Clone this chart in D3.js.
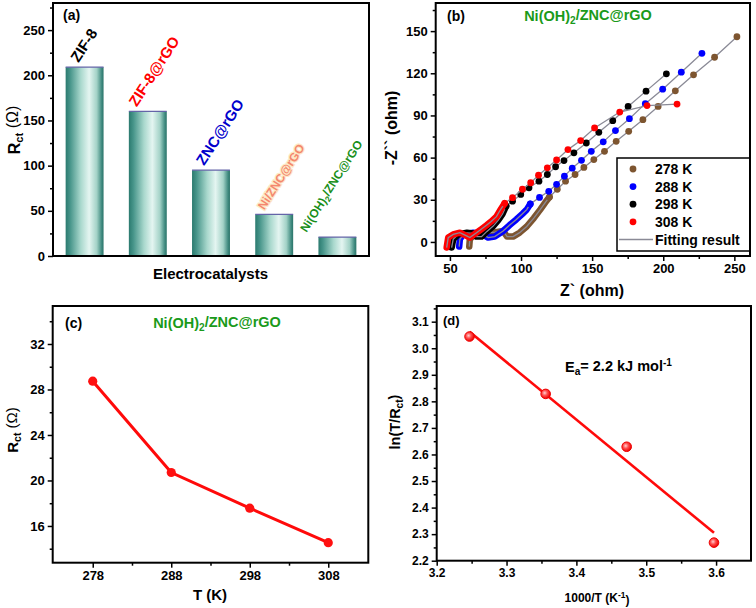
<!DOCTYPE html>
<html><head><meta charset="utf-8">
<script src="https://cdn.jsdelivr.net/npm/d3@7"></script>
<style>
body{margin:0;background:#fff}
svg{display:block}
text{font-family:Arial,"Liberation Sans",sans-serif;font-weight:bold}
</style>
</head><body>
<svg id="c" width="756" height="608"></svg>
<script>
// ---------------- DATA ----------------
// (a) bar chart
const catalysts = ["ZIF-8", "ZIF-8@rGO", "ZNC@rGO", "Ni/ZNC@rGO", "Ni(OH)2/ZNC@rGO"];
const rctValues = [209, 160, 95, 46, 21];
const catalystColors = ["#000000", "#ff0000", "#0000cc", "#f4876e", "#1a8f1a"];
const yTicksA = [0, 50, 100, 150, 200, 250];

// (b) Nyquist plots [Z', -Z'']
const tempLabels = ["278 K", "288 K", "298 K", "308 K"];
const tempColors = ["#7d5530", "#0000ff", "#000000", "#ff0000"];
const band278 = [[63.6,-3.3],[64,1.9],[67.5,5.4],[75,6.5],[82,7],[87.4,7.8],[90.2,3.8],[94.4,3.8],[99,6.6],[104,11],[109,17],[113.5,23],[117,28]];
const dots278 = [[120,32],[125.5,37.5],[131.3,43.2],[138,48],[144.2,53],[151.2,58.6],[158.7,64.5],[166.9,71.6],[175.7,78.7],[185.7,87],[196.4,96.4],[208.5,107.5],[221.3,118.9],[236.1,131.4],[251.8,146]];
const band288 = [[56.5,-3.3],[57,1.9],[59.3,5.4],[66.4,6.6],[72.2,5.9],[76.9,3.1],[81.5,3.8],[87.4,7.8],[92,12],[96.7,16],[101,20],[104,23]];
const dots288 = [[106.5,27],[113,31.7],[119.5,36],[125,41],[130.5,46.8],[136,52.5],[142.5,58.1],[149.4,64.5],[157.8,71.2],[166.4,79.2],[176.2,87.7],[187.4,98.4],[199.6,108.7],[212.7,120.8],[227.2,134.2]];
const band298 = [[51.2,-4],[52.3,1.9],[55.8,5.4],[62,6.5],[66.4,6.1],[68.7,3.8],[72.2,3.8],[76,7.5],[80.4,11.3],[84,15.5],[87,20]];
const dots298 = [[89.5,25.5],[94,29],[99.8,33.8],[105.6,38.5],[112.6,43.2],[118.5,48],[124.3,53.5],[130.2,57.9],[137.2,63.4],[145.9,70.4],[154.7,78],[164.5,86.3],[175.3,96.4],[187.9,107.3],[202.2,119.6]];
const band308 = [[47.7,-4],[48.8,3.1],[52.3,5.4],[57,6.6],[61.7,4.3],[64,3.1],[68.7,6.6],[72,9],[75.7,11.8],[79,14.5],[82.7,18],[85,22]];
const dots308 = [[88.5,27.5],[94,31.5],[101,37.5],[106.8,42.1],[112.3,47.5],[118.5,52.7],[125,58.3],[133,65.7],[141.9,72.1],[151.7,81.1],[169.4,92.4],[188.6,97],[209.7,98.1]];
const xTicksB = [50, 100, 150, 200, 250];
const yTicksB = [0, 30, 60, 90, 120, 150];

// (c) Rct vs T
const temps = [278, 288, 298, 308];
const rctTemp = [28.73, 20.7, 17.56, 14.53];
const yTicksC = [16, 20, 24, 28, 32];

// (d) Arrhenius
const invT = [3.247, 3.356, 3.472, 3.597];
const lnTR = [3.044, 2.828, 2.629, 2.268];
const fitInvT = [3.247, 3.597];
const fitLnTR = [3.062, 2.305];
const xTicksD = [3.2, 3.3, 3.4, 3.5, 3.6];
const yTicksD = [2.2, 2.3, 2.4, 2.5, 2.6, 2.7, 2.8, 2.9, 3.0, 3.1];

// ---------------- DRAW ----------------
const svg = d3.select("#c");
const defs = svg.append("defs");
const grad = defs.append("linearGradient").attr("id", "barGrad").attr("x1", "0").attr("x2", "1").attr("y1", "0").attr("y2", "0");
[[0, "#2b7a6f"], [0.12, "#47958a"], [0.4, "#a9d8cd"], [0.62, "#e4f5f1"], [0.82, "#a3d2c7"], [0.95, "#3f8a7f"], [1, "#2b7469"]]
  .forEach(([o, c]) => grad.append("stop").attr("offset", o).attr("stop-color", c));
const rg = defs.append("radialGradient").attr("id", "ball").attr("cx", "0.4").attr("cy", "0.4").attr("r", "0.6");
rg.append("stop").attr("offset", 0).attr("stop-color", "#ffd0d0");
rg.append("stop").attr("offset", 0.45).attr("stop-color", "#ff5050");
rg.append("stop").attr("offset", 1).attr("stop-color", "#ee0000");

function styleAxis(g, fs) {
  g.select(".domain").remove();
  g.selectAll(".tick line").attr("stroke", "#000").attr("stroke-width", 1.5);
  g.selectAll(".tick text").attr("fill", "#000").attr("font-size", fs)
    .attr("font-weight", "bold").attr("font-family", "Arial, 'Liberation Sans', sans-serif");
}
function leftAxis(y, x0, major, minor, fs, fmt) {
  const g = svg.append("g").attr("transform", `translate(${x0},0)`)
    .call(d3.axisLeft(y).tickValues(major).tickSize(5).tickPadding(3).tickFormat(fmt || null));
  styleAxis(g, fs);
  const m = svg.append("g").attr("transform", `translate(${x0},0)`)
    .call(d3.axisLeft(y).tickValues(minor).tickSize(3).tickFormat(""));
  styleAxis(m, fs);
}
function bottomAxis(x, y0, major, minor, fs, fmt) {
  const g = svg.append("g").attr("transform", `translate(0,${y0})`)
    .call(d3.axisBottom(x).tickValues(major).tickSize(5).tickPadding(3).tickFormat(fmt || null));
  styleAxis(g, fs);
  const m = svg.append("g").attr("transform", `translate(0,${y0})`)
    .call(d3.axisBottom(x).tickValues(minor).tickSize(3).tickFormat(""));
  styleAxis(m, fs);
}
function frame(x0, y0, x1, y1) {
  svg.append("rect").attr("x", x0).attr("y", y0).attr("width", x1 - x0).attr("height", y1 - y0)
    .attr("fill", "none").attr("stroke", "#000").attr("stroke-width", 2);
}
function rotLabel(x, y, parts, fs) {
  const t = svg.append("text").attr("transform", `translate(${x},${y}) rotate(-90)`)
    .attr("text-anchor", "middle").attr("font-size", fs).attr("dy", "0.35em");
  addParts(t, parts);
  return t;
}
function addParts(t, parts) {
  parts.forEach(p => {
    const s = t.append("tspan").text(p.t);
    if (p.sub) s.attr("font-size", "0.7em").attr("dy", "0.3em");
    if (p.sup) s.attr("font-size", "0.7em").attr("dy", "-0.45em");
    if (p.back) s.attr("dy", p.back);
    if (p.normal) s.attr("font-weight", "normal");
  });
}

// ===== Panel (a) =====
const xA = d3.scaleBand().domain(catalysts).range([53, 369]).paddingInner(0.4).paddingOuter(0.2);
const yA = d3.scaleLinear().domain([0, 280]).range([256, 3]);
leftAxis(yA, 53, yTicksA, [25, 75, 125, 175, 225, 275], 13);
const bw = xA.bandwidth();
svg.append("g").selectAll("rect").data(catalysts).join("rect")
  .attr("x", d => xA(d)).attr("y", (d, i) => yA(rctValues[i]))
  .attr("width", bw).attr("height", (d, i) => yA(0) - yA(rctValues[i]))
  .attr("fill", "url(#barGrad)");
svg.append("g").selectAll("line").data(catalysts).join("line")
  .attr("x1", d => xA(d)).attr("x2", d => xA(d) + bw)
  .attr("y1", (d, i) => yA(rctValues[i])).attr("y2", (d, i) => yA(rctValues[i]))
  .attr("stroke", "#6464a8").attr("stroke-width", 1.2);
const labelShift = [-6, -11, -7, -10, -31];
const labelSize = [15, 15, 15, 12, 12];
catalysts.forEach((c, i) => {
  const t = svg.append("text")
    .attr("transform", `translate(${xA(c) + bw / 2 + labelShift[i]},${yA(rctValues[i]) - 4}) rotate(-57)`)
    .attr("font-size", labelSize[i]).attr("fill", catalystColors[i]);
  if (c === "Ni(OH)2/ZNC@rGO") {
    addParts(t, [{t: "Ni(OH)"}, {t: "2", sub: true}, {t: "/ZNC@rGO", back: "-0.3em"}]);
  } else t.text(c);
  if (i === 3) t.attr("stroke", "#fde9c6").attr("stroke-width", 2.5).attr("paint-order", "stroke");
});
frame(53, 3, 369, 256);
svg.append("text").attr("x", 63).attr("y", 20).attr("font-size", 14).text("(a)");
svg.append("text").attr("x", 210.5).attr("y", 278.5).attr("text-anchor", "middle").attr("font-size", 15).text("Electrocatalysts");
rotLabel(14, 130, [{t: "R"}, {t: "ct", sub: true}, {t: " (Ω)", back: "-0.3em", normal: true}], 16);

// ===== Panel (b) =====
const xB = d3.scaleLinear().domain([40, 261]).range([435.7, 750]);
const yB = d3.scaleLinear().domain([-10, 170]).range([256, 3]);
leftAxis(yB, 435.7, yTicksB, [15, 45, 75, 105, 135, 165], 13);
bottomAxis(xB, 256, xTicksB, [75, 125, 175, 225], 13);
const bands = [band278, band288, band298, band308];
const dots = [dots278, dots288, dots298, dots308];
const lineB = d3.line().x(d => xB(d[0])).y(d => yB(d[1]));
const gB = svg.append("g");
bands.forEach((b, i) => {
  gB.append("path").attr("d", lineB(b.concat([dots[i][0]]))).attr("fill", "none")
    .attr("stroke", tempColors[i]).attr("stroke-width", 6.5)
    .attr("stroke-linejoin", "round").attr("stroke-linecap", "round");
  gB.append("path").attr("d", lineB(b.concat(dots[i]))).attr("fill", "none")
    .attr("stroke", "#8a8a96").attr("stroke-width", 1.3);
  gB.append("g").selectAll("circle").data(dots[i]).join("circle")
    .attr("cx", d => xB(d[0])).attr("cy", d => yB(d[1])).attr("r", 3.4)
    .attr("fill", tempColors[i]);
});
// legend
svg.append("rect").attr("x", 617).attr("y", 158).attr("width", 133).attr("height", 93)
  .attr("fill", "#fff").attr("stroke", "#000").attr("stroke-width", 1.5);
tempLabels.forEach((l, i) => {
  const yy = 169 + i * 17.6;
  svg.append("circle").attr("cx", 633).attr("cy", yy).attr("r", 3.4).attr("fill", tempColors[i]);
  svg.append("text").attr("x", 655).attr("y", yy).attr("dy", "0.36em").attr("font-size", 14).text(l);
});
svg.append("line").attr("x1", 619).attr("x2", 653).attr("y1", 239.5).attr("y2", 239.5)
  .attr("stroke", "#8a8a96").attr("stroke-width", 1.5);
svg.append("text").attr("x", 655).attr("y", 239.5).attr("dy", "0.36em").attr("font-size", 14).text("Fitting result");
frame(435.7, 3, 750, 256);
svg.append("text").attr("x", 447).attr("y", 21).attr("font-size", 14).text("(b)");
const tb = svg.append("text").attr("x", 588).attr("y", 21).attr("text-anchor", "middle").attr("font-size", 14.5).attr("fill", "#1a9a1a");
addParts(tb, [{t: "Ni(OH)"}, {t: "2", sub: true}, {t: "/ZNC@rGO", back: "-0.3em"}]);
svg.append("text").attr("x", 592).attr("y", 296).attr("text-anchor", "middle").attr("font-size", 16).text("Z` (ohm)");
rotLabel(391, 128, [{t: "-Z`` (ohm)"}], 16);

// ===== Panel (c) =====
const xC = d3.scaleLinear().domain([272.9, 313.1]).range([52.7, 368.3]);
const yC = d3.scaleLinear().domain([12.77, 35.34]).range([562.7, 306]);
leftAxis(yC, 52.7, yTicksC, [14, 18, 22, 26, 30, 34], 13);
bottomAxis(xC, 562.7, temps, [283, 293, 303], 13);
const lineC = d3.line().x((d, i) => xC(temps[i])).y(d => yC(d));
svg.append("path").attr("d", lineC(rctTemp)).attr("fill", "none").attr("stroke", "#ff0a0a").attr("stroke-width", 3);
svg.append("g").selectAll("circle").data(rctTemp).join("circle")
  .attr("cx", (d, i) => xC(temps[i])).attr("cy", d => yC(d)).attr("r", 4.6).attr("fill", "#ff1010");
frame(52.7, 306, 368.3, 562.7);
svg.append("text").attr("x", 65).attr("y", 328).attr("font-size", 14).text("(c)");
const tc = svg.append("text").attr("x", 217).attr("y", 328).attr("text-anchor", "middle").attr("font-size", 14.5).attr("fill", "#1a9a1a");
addParts(tc, [{t: "Ni(OH)"}, {t: "2", sub: true}, {t: "/ZNC@rGO", back: "-0.3em"}]);
svg.append("text").attr("x", 210).attr("y", 600).attr("text-anchor", "middle").attr("font-size", 15).text("T (K)");
rotLabel(13, 430, [{t: "R"}, {t: "ct", sub: true}, {t: " (Ω)", back: "-0.3em", normal: true}], 15);

// ===== Panel (d) =====
const xD = d3.scaleLinear().domain([3.2, 3.65]).range([436.7, 751]);
const yD = d3.scaleLinear().domain([2.2, 3.159]).range([560.7, 306]);
leftAxis(yD, 436.7, yTicksD, [2.25, 2.35, 2.45, 2.55, 2.65, 2.75, 2.85, 2.95, 3.05, 3.15], 12, d3.format(".1f"));
bottomAxis(xD, 560.7, xTicksD, [3.25, 3.35, 3.45, 3.55], 12, d3.format(".1f"));
const lineD = d3.line().x((d, i) => xD(fitInvT[i])).y(d => yD(d));
svg.append("path").attr("d", lineD(fitLnTR)).attr("fill", "none").attr("stroke", "#ff0a0a").attr("stroke-width", 2.6);
svg.append("g").selectAll("circle").data(lnTR).join("circle")
  .attr("cx", (d, i) => xD(invT[i])).attr("cy", d => yD(d)).attr("r", 4.8)
  .attr("fill", "url(#ball)").attr("stroke", "#ee0000").attr("stroke-width", 1);
frame(436.7, 306, 751, 560.7);
svg.append("text").attr("x", 443).attr("y", 325).attr("font-size", 13).text("(d)");
const te = svg.append("text").attr("x", 565).attr("y", 372).attr("font-size", 14.5);
addParts(te, [{t: "E"}, {t: "a", sub: true}, {t: "= 2.2 kJ mol", back: "-0.3em"}, {t: "-1", sup: true}]);
const tx = svg.append("text").attr("x", 597).attr("y", 602).attr("text-anchor", "middle").attr("font-size", 12);
addParts(tx, [{t: "1000/T (K"}, {t: "-1", sup: true}, {t: ")", back: "0.45em"}]);
rotLabel(395, 422, [{t: "ln(T/R"}, {t: "ct", sub: true}, {t: ")", back: "-0.3em"}], 14.5);
</script>
</body></html>
